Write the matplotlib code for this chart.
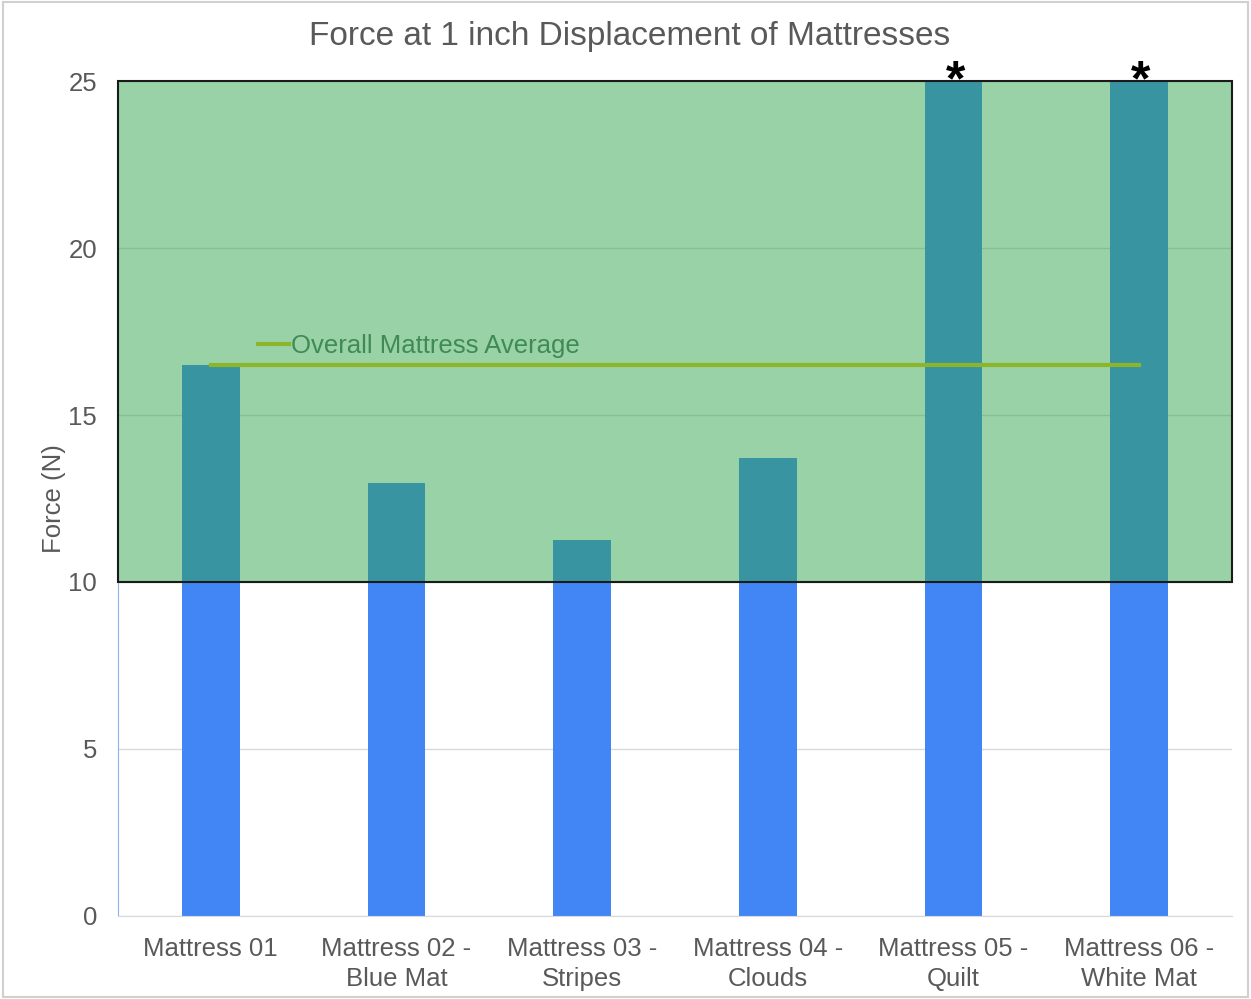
import numpy as np
import matplotlib; matplotlib.use("Agg")
import matplotlib.pyplot as plt
from matplotlib.patches import Rectangle

plt.rcParams["font.family"] = ["Liberation Sans", "DejaVu Sans"]

CATEGORIES = ["Mattress 01", "Mattress 02 -\nBlue Mat", "Mattress 03 -\nStripes",
              "Mattress 04 -\nClouds", "Mattress 05 -\nQuilt", "Mattress 06 -\nWhite Mat"]
FORCE = [16.5, 12.95, 11.25, 13.7, 25.0, 25.0]
OVER_LIMIT = [False, False, False, False, True, True]   # marked with *
AVERAGE = 16.5
BAND = (10, 25)                                          # green target band
Y_TICKS = [0, 5, 10, 15, 20, 25]

GREY = "#595959"

def main():
    fig = plt.figure(figsize=(12.51, 9.99), dpi=100)
    ax = fig.add_axes([0.0943, 0.0831, 0.8905, 0.8358])
    x = np.arange(len(CATEGORIES))

    ax.bar(x, FORCE, width=0.31, color="#4285F4", zorder=2)
    ax.add_patch(Rectangle((-0.5, BAND[0]), len(CATEGORIES), BAND[1]-BAND[0],
                           facecolor="#31A54D", alpha=0.49, edgecolor="none", zorder=3))
    ax.add_patch(Rectangle((-0.5, BAND[0]), len(CATEGORIES), BAND[1]-BAND[0],
                           facecolor="none", edgecolor="#1a1a1a", lw=1.5, zorder=4, clip_on=False))
    ax.plot([x[0], x[-1]], [AVERAGE, AVERAGE], color="#8DB52A", lw=3,
            label="Overall Mattress Average", zorder=5)
    for xi, flag in zip(x, OVER_LIMIT):
        if flag:
            ax.text(xi + 0.01, 24.95, "*", ha="center", va="center", fontsize=36,
                    fontweight="bold", color="black", zorder=6)

    ax.set_xlim(-0.5, len(CATEGORIES)-0.5)
    ax.set_ylim(0, 25)
    ax.set_yticks(Y_TICKS)
    ax.set_xticks(x, CATEGORIES)
    ax.tick_params(axis="both", length=0, labelsize=18.5, colors=GREY)
    ax.tick_params(axis="y", pad=15)
    ax.tick_params(axis="x", pad=15)
    for lbl in ax.get_xticklabels():
        lbl.set_linespacing(1.35)
    ax.grid(axis="y", color="#d9d9d9", lw=1, zorder=1)
    ax.set_axisbelow(True)
    for s in ("top", "right"):
        ax.spines[s].set_visible(False)
    ax.spines["left"].set_color("#8fb3e8")
    ax.spines["bottom"].set_color("#d9d9d9")
    ax.set_ylabel("Force (N)", fontsize=18.5, color=GREY, labelpad=2)
    fig.text(0.503, 0.963, "Force at 1 inch Displacement of Mattresses", fontsize=24,
             color=GREY, ha="center", va="center")

    ax.legend(loc="lower left", bbox_to_anchor=(0.105, 0.64), frameon=False,
              fontsize=18.5, handlelength=1.2, handletextpad=0.1, labelcolor="#3f8a55")

    fig.add_artist(Rectangle((0.002, 0.002), 0.996, 0.996, transform=fig.transFigure,
                             facecolor="none", edgecolor="#d0d0d0", lw=1.5))
    fig.savefig("out.png", dpi=100)

if __name__ == "__main__":
    main()
